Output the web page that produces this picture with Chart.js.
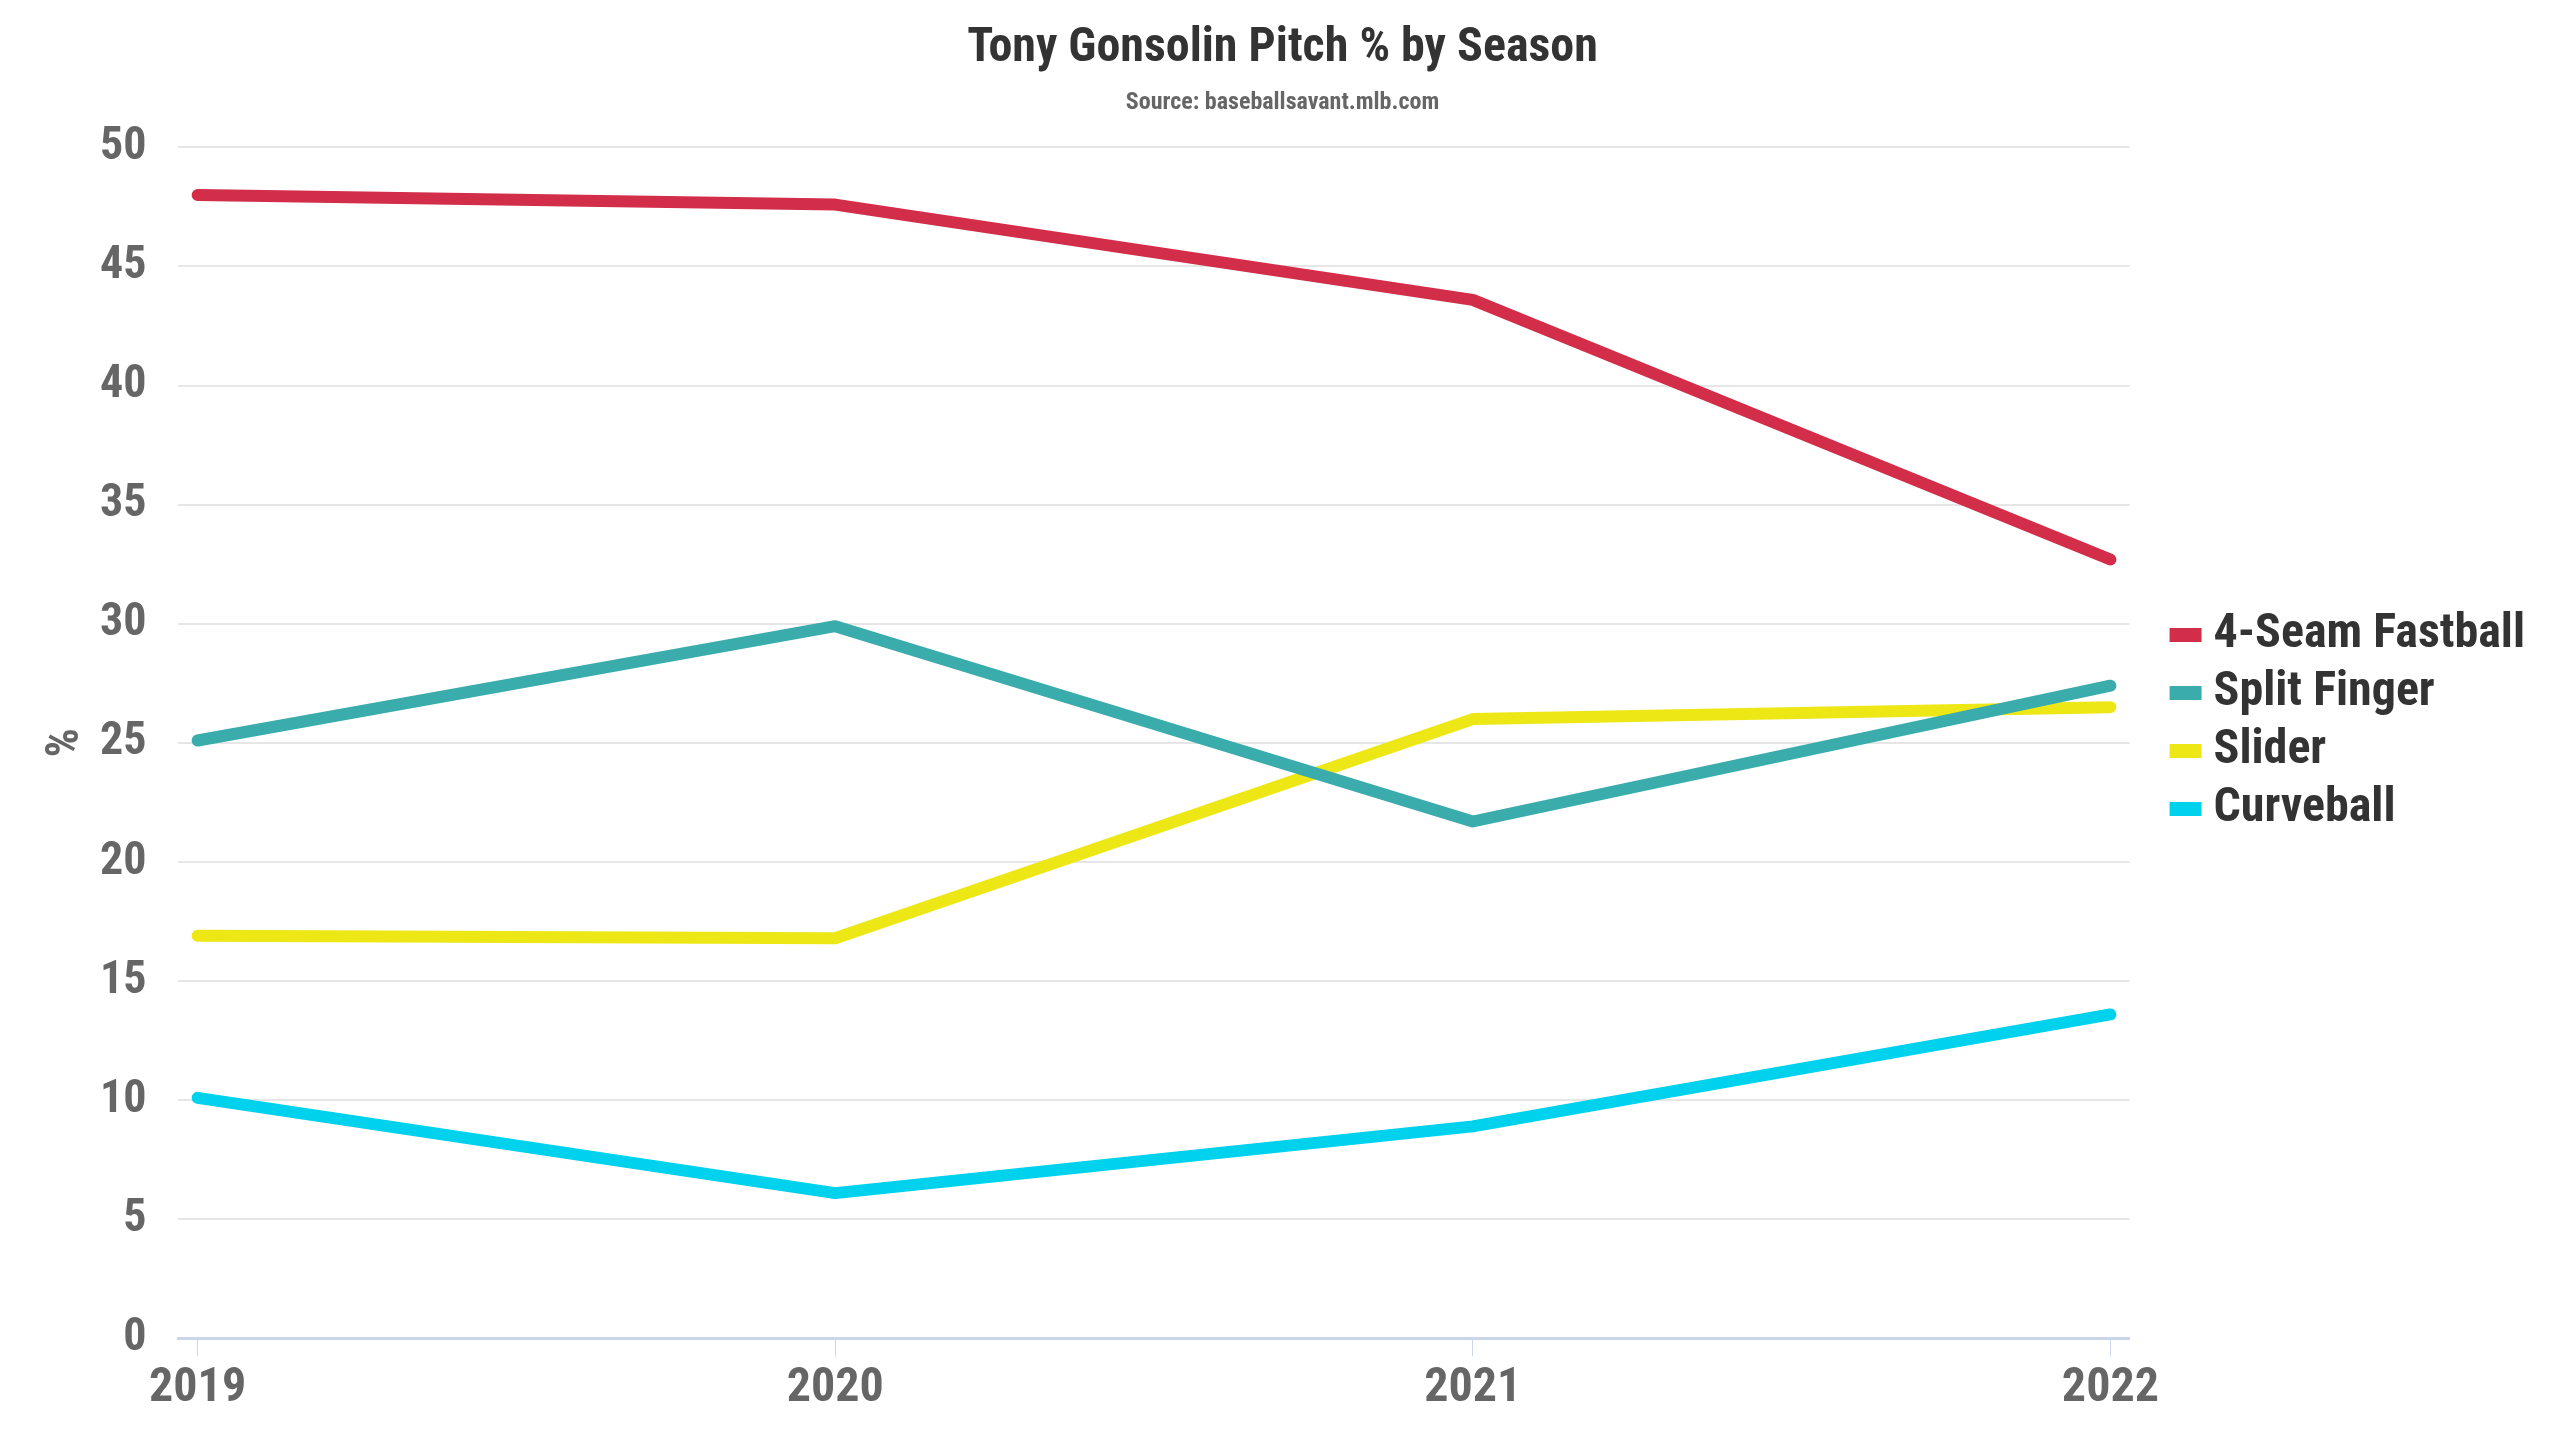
<!DOCTYPE html>
<html>
<head>
<meta charset="utf-8">
<title>Tony Gonsolin Pitch % by Season</title>
<script src="https://cdn.jsdelivr.net/npm/chart.js@4.4.1/dist/chart.umd.min.js"></script>
<style>
    html, body { margin: 0; padding: 0; background: #fff; }
    #wrap { width: 2560px; height: 1440px; }
</style>
</head>
<body>
<div id="wrap"><canvas id="pitchChart"></canvas></div>
<script>
// seasons and pitch usage (%)
const seasons = [2019, 2020, 2021, 2022];
const fourSeam = [48.0, 47.6, 43.6, 32.7];
const splitFinger = [25.1, 29.9, 21.7, 27.4];
const slider = [16.9, 16.8, 26.0, 26.5];
const curveball = [10.1, 6.1, 8.9, 13.6];
const yTicks = [0, 5, 10, 15, 20, 25, 30, 35, 40, 45, 50];

const FONT = "'Roboto Condensed', 'Liberation Sans Narrow', 'DejaVu Sans Condensed', Roboto, sans-serif";

// legend swatch: wide flat bar, drawn closer to the label than the default box
function swatch(color) {
    const c = document.createElement('canvas');
    c.width = 88;
    c.height = 14;
    const g = c.getContext('2d');
    g.fillStyle = color;
    g.fillRect(40, 0, 32, 14);
    return c;
}

function series(label, values, color) {
    return {
        label: label,
        data: seasons.map((s, i) => ({ x: s, y: values[i] })),
        borderColor: color,
        backgroundColor: color,
        borderWidth: 12,
        borderCapStyle: 'round',
        borderJoinStyle: 'round',
        pointRadius: 0,
        pointHoverRadius: 0,
        pointStyle: swatch(color),
        tension: 0,
        fill: false
    };
}

document.addEventListener("DOMContentLoaded", function () {
    const ctx = document.getElementById('pitchChart');

    new Chart(ctx, {
        type: 'line',
        data: {
            datasets: [
                series('4-Seam Fastball', fourSeam, '#d22d49'),
                series('Split Finger', splitFinger, '#3bacac'),
                series('Slider', slider, '#eee716'),
                series('Curveball', curveball, '#00d1ed')
            ]
        },
        options: {
            responsive: true,
            maintainAspectRatio: false,
            animation: false,
            devicePixelRatio: 1,
            layout: {
                padding: { left: 30, right: 25, top: 12, bottom: 18 }
            },
            plugins: {
                title: {
                    display: true,
                    text: 'Tony Gonsolin Pitch % by Season',
                    color: '#333333',
                    font: { family: FONT, size: 48, weight: 'bold' },
                    padding: { top: 8, bottom: 11 }
                },
                subtitle: {
                    display: true,
                    text: 'Source: baseballsavant.mlb.com',
                    color: '#666666',
                    font: { family: FONT, size: 24, weight: 'bold' },
                    padding: { top: 0, bottom: 30 }
                },
                legend: {
                    position: 'right',
                    align: 'center',
                    // empty title only nudges the items down a little
                    title: {
                        display: true,
                        text: '',
                        font: { family: FONT, size: 8 },
                        padding: 0
                    },
                    labels: {
                        color: '#333333',
                        font: { family: FONT, size: 48, weight: 'bold' },
                        usePointStyle: true,
                        pointStyleWidth: 32,
                        boxHeight: 14,
                        padding: 10
                    }
                },
                tooltip: { enabled: false }
            },
            scales: {
                x: {
                    type: 'linear',
                    min: 2018.97,
                    max: 2022.03,
                    afterBuildTicks: function (scale) {
                        scale.ticks = seasons.map(v => ({ value: v }));
                    },
                    grid: {
                        drawOnChartArea: false,
                        drawTicks: true,
                        tickLength: 18,
                        color: '#ccd6eb',
                        lineWidth: 1
                    },
                    border: { display: true, color: '#ccd6eb', width: 3 },
                    ticks: {
                        color: '#666666',
                        font: { family: FONT, size: 48, weight: 'bold' },
                        padding: 4,
                        maxRotation: 0,
                        callback: function (value) { return String(value); }
                    }
                },
                y: {
                    min: 0,
                    max: 50,
                    afterBuildTicks: function (scale) {
                        scale.ticks = yTicks.map(v => ({ value: v }));
                    },
                    title: {
                        display: true,
                        text: '%',
                        color: '#666666',
                        font: { family: FONT, size: 46, weight: 'bold', lineHeight: '4px' },
                        padding: { top: 34, bottom: 0 }
                    },
                    grid: {
                        color: '#e6e6e6',
                        lineWidth: 2,
                        drawTicks: false
                    },
                    border: { display: false },
                    ticks: {
                        color: '#666666',
                        font: { family: FONT, size: 46, weight: 'bold' },
                        padding: 32
                    }
                },
                // empty spacer so the plot stops short of the legend
                spacer: {
                    type: 'linear',
                    position: 'right',
                    display: true,
                    grid: { display: false },
                    border: { display: false },
                    ticks: { display: false },
                    afterFit: function (scale) { scale.width = 18; }
                }
            }
        }
    });
});
</script>
</body>
</html>
